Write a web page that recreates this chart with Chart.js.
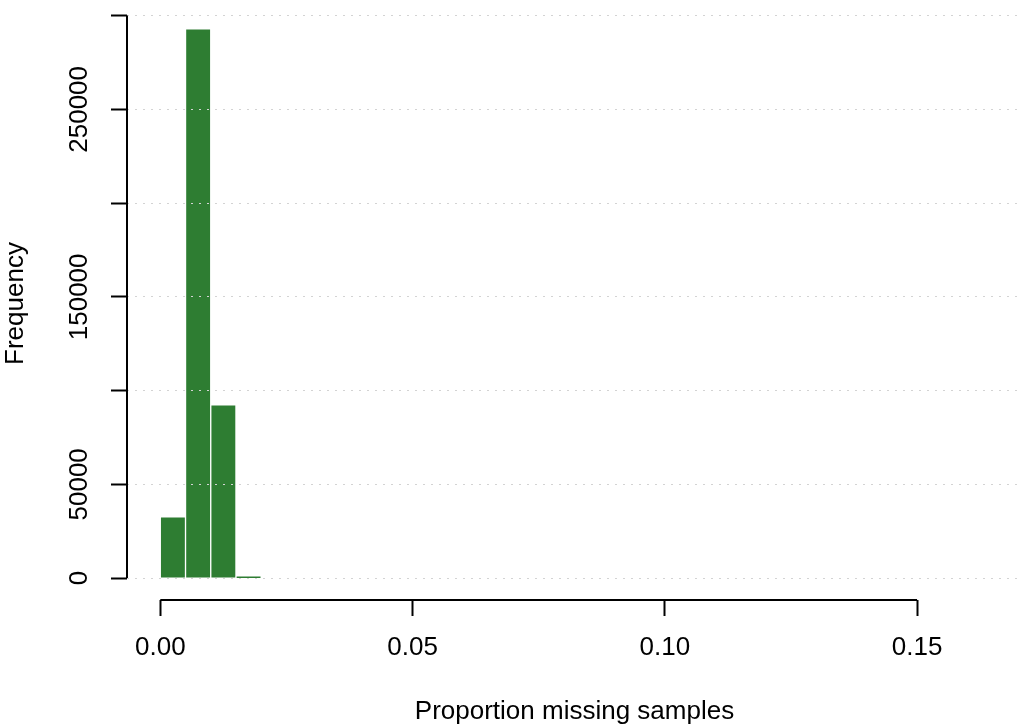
<!DOCTYPE html>
<html>
<head>
<meta charset="utf-8">
<script src="https://cdn.jsdelivr.net/npm/chart.js@4/dist/chart.umd.min.js"></script>
<style>
  body { margin: 0; background: #fff; }
  #wrap { width: 1024px; height: 727px; }
</style>
</head>
<body>
<div id="wrap"><canvas id="hist-chart" width="1024" height="727"></canvas></div>
<script>
// histogram bins (left edges) and counts
var binStarts = [0, 0.005, 0.010, 0.015];
var binWidth = 0.005;
var counts = [32600, 292900, 92400, 1000];

// axis ticks
var xTicks = [0, 0.05, 0.10, 0.15];
var xTickLabels = ["0.00", "0.05", "0.10", "0.15"];
var yTicks = [0, 50000, 100000, 150000, 200000, 250000, 300000];
var yTickLabels = ["0", "50000", "", "150000", "", "250000", ""];

var FONT = "'Liberation Sans', Arial, Helvetica, sans-serif";
var FSIZE = 26;

var points = [];
for (var i = 0; i < binStarts.length; i++) {
    points.push({x: binStarts[i] + binWidth / 2, y: counts[i]});
}

// R style axes: line only over the tick range
var axisLines = {
    id: "axisLines",
    afterDraw: function (chart) {
        var c = chart.ctx, xs = chart.scales.x, ys = chart.scales.y, a = chart.chartArea;
        c.save();
        c.strokeStyle = "#000";
        c.lineWidth = 2;
        c.lineCap = "butt";
        c.beginPath();
        c.moveTo(a.left, ys.getPixelForValue(yTicks[0]));
        c.lineTo(a.left, ys.getPixelForValue(yTicks[yTicks.length - 1]));
        c.moveTo(xs.getPixelForValue(xTicks[0]), a.bottom);
        c.lineTo(xs.getPixelForValue(xTicks[xTicks.length - 1]), a.bottom);
        c.stroke();
        c.restore();
    }
};

var ctx = document.getElementById("hist-chart");
var hist = new Chart(ctx, {
    type: "bar",
    data: {
        datasets: [{
            data: points,
            backgroundColor: "#2e7d32",
            borderColor: "#ffffff",
            borderWidth: 1,
            barPercentage: 1,
            categoryPercentage: 1
        }]
    },
    options: {
        responsive: false,
        animation: false,
        devicePixelRatio: 1,
        layout: {padding: {top: 7, right: 2, left: 0, bottom: 0}},
        plugins: {legend: {display: false}, tooltip: {enabled: false}},
        scales: {
            x: {
                type: "linear",
                offset: false,
                min: -0.0066,
                max: 0.1708,
                afterBuildTicks: function (s) { s.ticks = xTicks.map(function (v) { return {value: v}; }); },
                afterFit: function (s) { s.height = 127; },
                grid: {drawOnChartArea: false, offset: false, tickLength: 16, tickWidth: 2, tickColor: "#000"},
                border: {display: false},
                ticks: {
                    autoSkip: false, maxRotation: 0, padding: 16, color: "#000",
                    font: {family: FONT, size: FSIZE},
                    callback: function (v, i) { return xTickLabels[i]; }
                },
                title: {display: true, text: "Proportion missing samples", color: "#000",
                        font: {family: FONT, size: FSIZE}, padding: {top: 0, bottom: 0}}
            },
            y: {
                min: -11700,
                max: 304600,
                afterBuildTicks: function (s) { s.ticks = yTicks.map(function (v) { return {value: v}; }); },
                afterFit: function (s) { s.width = 127; },
                grid: {z: 1, color: "#d3d3d3", lineWidth: 1, tickLength: 16, tickWidth: 2, tickColor: "#000"},
                border: {display: false, dash: [2, 6]},
                ticks: {
                    autoSkip: false, minRotation: 90, maxRotation: 90, crossAlign: "center",
                    padding: -12, color: "#000",
                    font: {family: FONT, size: FSIZE},
                    callback: function (v, i) { return yTickLabels[i]; }
                },
                title: {display: true, text: "Frequency", color: "#000",
                        font: {family: FONT, size: FSIZE}, padding: {top: 0, bottom: 0}}
            }
        }
    },
    plugins: [axisLines]
});
</script>
</body>
</html>
